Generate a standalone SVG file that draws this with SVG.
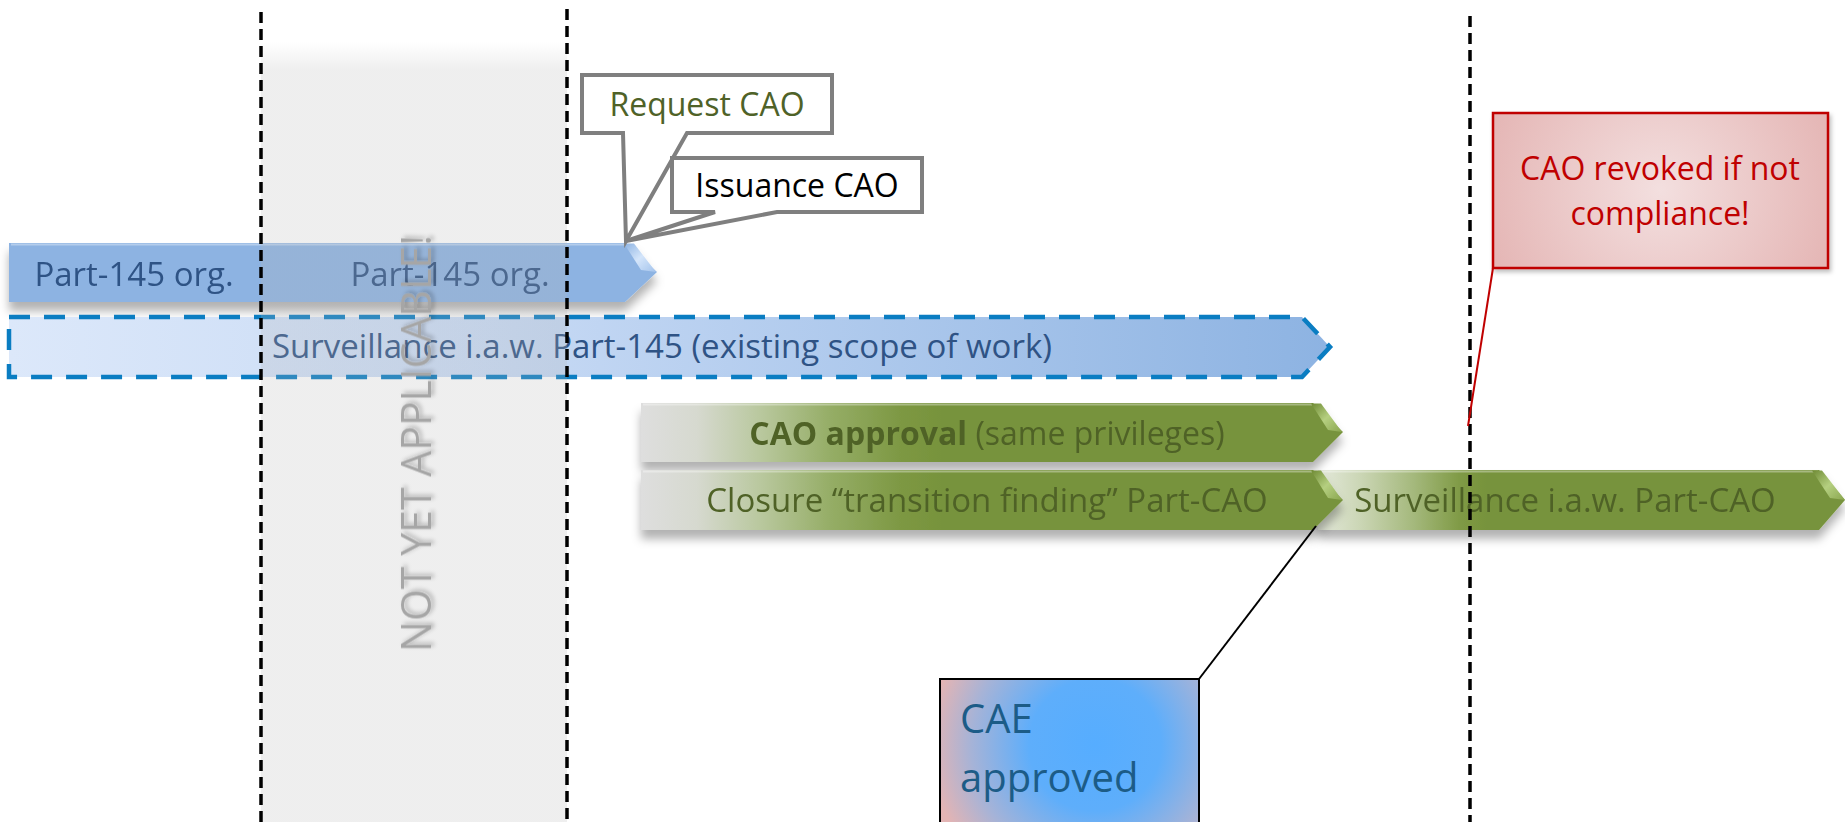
<svg xmlns="http://www.w3.org/2000/svg" width="1845" height="822" viewBox="0 0 1845 822">
  <style>
    text { font-family: "Open Sans", "Liberation Sans", sans-serif; }
    .t32 { font-size: 32px; }
    .t33 { font-size: 33px; }
    .blueTxt { fill: #2f5385; }
    .greenTxt { fill: #4f6228; }
    .divider { stroke: #000; stroke-width: 3.5; stroke-dasharray: 11 6; fill: none; }
    .callout { fill: #fff; stroke: #7f7f7f; stroke-width: 4; stroke-linejoin: miter; }
    .hl { fill: none; stroke: #ffffff; stroke-opacity: 0.35; stroke-width: 2; }
  </style>
  <defs>
    <filter id="shadow" x="-10%" y="-30%" width="120%" height="190%">
      <feDropShadow dx="0" dy="9" stdDeviation="5" flood-color="#000" flood-opacity="0.3"/>
    </filter>
    <filter id="softShadow" x="-10%" y="-10%" width="130%" height="130%">
      <feDropShadow dx="2" dy="3" stdDeviation="2" flood-color="#000" flood-opacity="0.25"/>
    </filter>
    <linearGradient id="bandGrad" gradientUnits="userSpaceOnUse" x1="0" y1="42" x2="0" y2="70">
      <stop offset="0" stop-color="#b4b4b4" stop-opacity="0"/>
      <stop offset="1" stop-color="#b4b4b4" stop-opacity="0.22"/>
    </linearGradient>
    <linearGradient id="survGrad" gradientUnits="userSpaceOnUse" x1="9" y1="0" x2="1330" y2="0">
      <stop offset="0" stop-color="#dce8fa"/>
      <stop offset="0.35" stop-color="#c9dbf5"/>
      <stop offset="1" stop-color="#8db3e2"/>
    </linearGradient>
    <linearGradient id="greenGrad1" gradientUnits="userSpaceOnUse" x1="641" y1="0" x2="1343" y2="0">
      <stop offset="0" stop-color="#dedede"/>
      <stop offset="0.08" stop-color="#d6d9cf"/>
      <stop offset="0.17" stop-color="#b9c89e"/>
      <stop offset="0.27" stop-color="#95ad66"/>
      <stop offset="0.37" stop-color="#7d9843"/>
      <stop offset="0.43" stop-color="#77933c"/>
      <stop offset="1" stop-color="#77933c"/>
    </linearGradient>
    <linearGradient id="greenGrad3" gradientUnits="userSpaceOnUse" x1="1318" y1="0" x2="1845" y2="0">
      <stop offset="0" stop-color="#e4e9db"/>
      <stop offset="0.08" stop-color="#cbd6b5"/>
      <stop offset="0.18" stop-color="#a5b97d"/>
      <stop offset="0.27" stop-color="#7f9a45"/>
      <stop offset="0.32" stop-color="#77933c"/>
      <stop offset="1" stop-color="#77933c"/>
    </linearGradient>
    <linearGradient id="tipGreen" x1="0" y1="0" x2="1" y2="1">
      <stop offset="0" stop-color="#6e8a34"/>
      <stop offset="0.5" stop-color="#b5cf80"/>
      <stop offset="1" stop-color="#8aa64f"/>
    </linearGradient>
    <linearGradient id="tipBlue" x1="0" y1="0" x2="1" y2="1">
      <stop offset="0" stop-color="#8db3e2"/>
      <stop offset="0.5" stop-color="#d4e5fa"/>
      <stop offset="1" stop-color="#a3c3ec"/>
    </linearGradient>
    <radialGradient id="redGrad" gradientUnits="userSpaceOnUse" cx="1660" cy="190" r="190">
      <stop offset="0" stop-color="#f3dfdf"/>
      <stop offset="1" stop-color="#e4b4b3"/>
    </radialGradient>
    <radialGradient id="caeGrad" gradientUnits="userSpaceOnUse" cx="1095" cy="745" r="165">
      <stop offset="0" stop-color="#56adff"/>
      <stop offset="0.4" stop-color="#5eaefb"/>
      <stop offset="0.75" stop-color="#a6b3d7"/>
      <stop offset="1" stop-color="#e3b4b4"/>
    </radialGradient>
  </defs>

  <rect width="1845" height="822" fill="#ffffff"/>

  <!-- Part-145 bar -->
  <g id="bar-part145" filter="url(#shadow)">
    <path d="M9,243 H625 L657,272 L625,302 H9 Z" fill="#8db3e2"/>
    <path d="M11,244.5 H624" class="hl"/>
    <polygon points="624,243.5 634,243.5 656,272 641,270" fill="url(#tipBlue)"/>
    <text x="134" y="286" text-anchor="middle" class="t33 blueTxt">Part-145 org.</text>
    <text x="450" y="286" text-anchor="middle" class="t33 blueTxt">Part-145 org.</text>
  </g>

  <!-- Surveillance Part-145 dashed bar -->
  <g id="bar-surv145">
    <path d="M9,317 H1302 L1330,347 L1302,377 H9 Z" fill="url(#survGrad)" stroke="#0a7dc2" stroke-width="4.5" stroke-dasharray="21 14"/>
    <text x="662" y="358" text-anchor="middle" class="t33 blueTxt">Surveillance i.a.w. Part-145 (existing scope of work)</text>
  </g>

  <!-- Surveillance Part-CAO bar (behind closure bar) -->
  <g id="bar-surv-cao" filter="url(#shadow)">
    <path d="M1318,470 H1819 L1845,500 L1819,530 H1318 Z" fill="url(#greenGrad3)"/>
    <path d="M1320,471.5 H1818" class="hl"/>
    <polygon points="1812,470.5 1822,470.5 1845,500 1830,498" fill="url(#tipGreen)"/>
    <text x="1565" y="512" text-anchor="middle" class="t33 greenTxt">Surveillance i.a.w. Part-CAO</text>
  </g>

  <!-- CAO approval bar -->
  <g id="bar-cao-approval" filter="url(#shadow)">
    <path d="M641,403 H1313 L1343,432 L1313,462 H641 Z" fill="url(#greenGrad1)"/>
    <path d="M643,404.5 H1312" class="hl"/>
    <polygon points="1311,403.5 1321,403.5 1342,432 1328,430" fill="url(#tipGreen)"/>
    <text x="987" y="445" text-anchor="middle" class="t32 greenTxt"><tspan font-weight="bold">CAO approval</tspan> (same privileges)</text>
  </g>

  <!-- Closure transition finding bar -->
  <g id="bar-closure" filter="url(#shadow)">
    <path d="M641,470 H1313 L1343,500 L1313,530 H641 Z" fill="url(#greenGrad1)"/>
    <path d="M643,471.5 H1312" class="hl"/>
    <polygon points="1311,470.5 1321,470.5 1342,500 1328,498" fill="url(#tipGreen)"/>
    <text x="987" y="512" text-anchor="middle" class="t33 greenTxt">Closure “transition finding” Part-CAO</text>
  </g>

  <!-- Not yet applicable band (overlay) -->
  <g id="band-not-yet">
    <rect x="261" y="42" width="306" height="780" fill="url(#bandGrad)"/>
    <text transform="translate(431,443.5) rotate(-90)" text-anchor="middle" font-size="42" fill="#a6a6a6" textLength="417" lengthAdjust="spacingAndGlyphs" filter="url(#softShadow)">NOT YET APPLICABLE!</text>
  </g>

  <!-- Dividers -->
  <g id="dividers">
    <line x1="261" y1="12" x2="261" y2="822" class="divider"/>
    <line x1="567" y1="9" x2="567" y2="822" class="divider"/>
    <line x1="1470" y1="16" x2="1470" y2="822" class="divider"/>
  </g>

  <!-- Callouts -->
  <g id="callout-request">
    <path d="M582,75 H832 V133 H687 L626,241 L623,133 H582 Z" class="callout"/>
    <text x="707" y="116" text-anchor="middle" class="t32" fill="#4f6228">Request CAO</text>
  </g>
  <g id="callout-issuance">
    <path d="M672,158 H922 V212 H777 L626,241 L715,212 H672 Z" class="callout"/>
    <text x="797" y="197" text-anchor="middle" class="t32" fill="#000000">Issuance CAO</text>
  </g>

  <!-- Red note -->
  <g id="note-revoked">
    <rect x="1493" y="113" width="335" height="155" fill="url(#redGrad)" stroke="#c00000" stroke-width="2.5" filter="url(#softShadow)"/>
    <text x="1660" y="180" text-anchor="middle" class="t32" fill="#c00000">CAO revoked if not</text>
    <text x="1660" y="225" text-anchor="middle" class="t32" fill="#c00000">compliance!</text>
  </g>

  <!-- CAE note -->
  <g id="note-cae">
    <rect x="940" y="679" width="259" height="160" fill="url(#caeGrad)" stroke="#000" stroke-width="2"/>
    <text x="960" y="733" font-size="40" fill="#1c5c87">CAE</text>
    <text x="960" y="792" font-size="40" fill="#1c5c87">approved</text>
  </g>

  <!-- Connectors -->
  <g id="connectors" fill="none">
    <line x1="1493" y1="268" x2="1468" y2="426" stroke="#c00000" stroke-width="2"/>
    <line x1="1199" y1="679" x2="1316" y2="526" stroke="#000" stroke-width="2"/>
  </g>
</svg>
